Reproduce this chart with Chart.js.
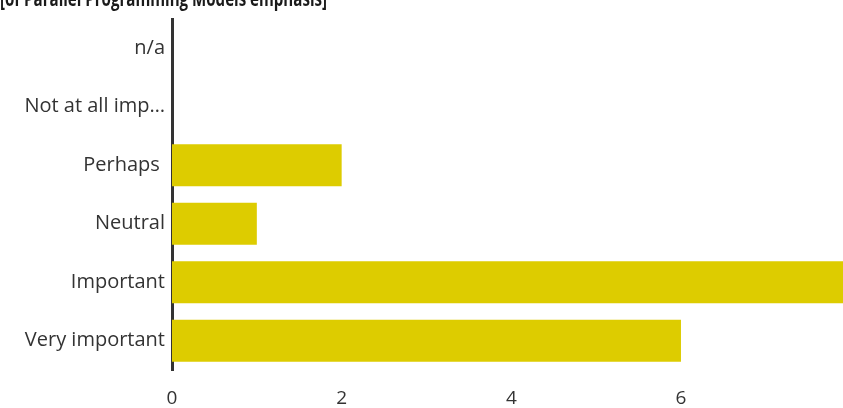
<!DOCTYPE html>
<html>
<head>
<meta charset="utf-8">
<script src="https://cdn.jsdelivr.net/npm/chart.js@4.4.1/dist/chart.umd.min.js"></script>
<style>
  html, body { margin: 0; padding: 0; background: #fff; }
  #wrap { position: relative; width: 843px; height: 408px; }
</style>
</head>
<body>
<div id="wrap"><canvas id="c" width="843" height="408"></canvas></div>
<script>
// Survey responses for the parallel programming models question
const titleText = '[of Parallel Programming Models emphasis]';
const categories = ['n/a', 'Not at all imp…', 'Perhaps ', 'Neutral', 'Important', 'Very important'];
const counts = [0, 0, 2, 1, 8, 6];
const xTickValues = [0, 2, 4, 6];
const xMax = 7.91;

const FONT = '"Open Sans", "Noto Sans", sans-serif';
const TEXT = '#333333';

// Heading sits at the very top, partly above the canvas edge
const headingPlugin = {
  id: 'heading',
  afterDraw(chart) {
    const ctx = chart.ctx;
    ctx.save();
    ctx.font = 'bold 21px "Open Sans", sans-serif';
    ctx.fillStyle = '#1a1a1a';
    ctx.textAlign = 'left';
    ctx.textBaseline = 'alphabetic';
    ctx.fillText(titleText, 0, 5.5, 327);
    ctx.restore();
  }
};

new Chart(document.getElementById('c'), {
  type: 'bar',
  data: {
    labels: categories,
    datasets: [{
      data: counts,
      backgroundColor: '#DDCC00',
      borderWidth: 0,
      barPercentage: 0.72,
      categoryPercentage: 1.0
    }]
  },
  options: {
    indexAxis: 'y',
    responsive: false,
    animation: false,
    layout: { padding: { top: 12, right: 0, left: 0, bottom: 0 } },
    plugins: {
      legend: { display: false },
      tooltip: { enabled: false },
      title: { display: false }
    },
    scales: {
      x: {
        min: 0,
        max: xMax,
        grid: { display: false, drawTicks: false },
        border: { display: false },
        afterFit(scale) { scale.height = 38; },
        afterBuildTicks(scale) {
          scale.ticks = xTickValues.map(v => ({ value: v }));
        },
        ticks: {
          padding: 17,
          color: TEXT,
          font: { family: FONT, size: 19 }
        }
      },
      y: {
        grid: { display: false, drawTicks: false },
        border: { display: true, color: '#333333', width: 3 },
        afterFit(scale) { scale.width = 172; },
        ticks: {
          padding: 7,
          color: TEXT,
          autoSkip: false,
          font: { family: FONT, size: 20 }
        }
      }
    }
  },
  plugins: [headingPlugin]
});
</script>
</body>
</html>
